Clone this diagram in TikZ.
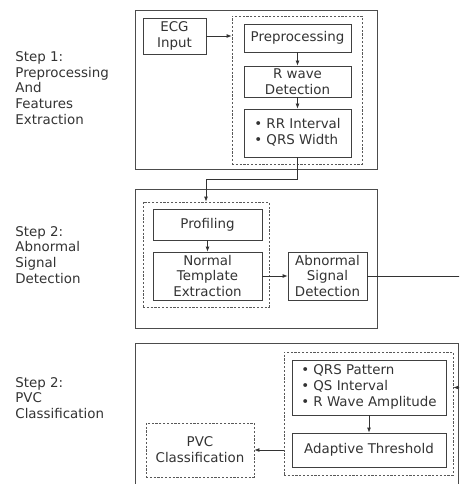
\documentclass[tikz,border=0pt]{standalone}
\usepackage{fontspec}
\setmainfont{DejaVu Sans}
\usetikzlibrary{arrows.meta}

\begin{document}
\begin{tikzpicture}
  [x=1pt,y=-1pt,>={Latex[length=5pt,width=4pt]},
   every node/.style={draw=black!75,line width=.8pt,text=black!80,inner sep=0pt,
     align=center,font=\fontsize{13.4}{15.8}\selectfont},
   stage/.style={draw=black!70},
   group/.style={draw=black!65,dash pattern=on 2.2pt off 1.6pt},
   steptext/.style={draw=none,anchor=west,align=left}]
  \useasboundingbox (0,0) rectangle (459,484);
  \clip (0,0) rectangle (459,484);

  % step labels
  \node[steptext] (t1) at (15,88)  {Step 1:\\Preprocessing\\And\\Features\\Extraction};
  \node[steptext] (t2) at (15,255) {Step 2:\\Abnormal\\Signal\\Detection};
  \node[steptext] (t3) at (15,398) {Step 2:\\PVC\\Classification};

  % outer stage boxes
  \node[stage,minimum width=242pt,minimum height=159pt] (s1) at (256,89.5)    {};
  \node[stage,minimum width=242pt,minimum height=139pt] (s2) at (256,258.5)   {};
  \node[stage,minimum width=323.5pt,minimum height=157pt] (s3) at (296.75,421.5) {};

  % dashed groups
  \node[group,minimum width=130pt,minimum height=148pt] (g1) at (297,90)    {};
  \node[group,minimum width=126pt,minimum height=105pt] (g2) at (206,254.5) {};
  \node[group,minimum width=169pt,minimum height=123pt] (g3) at (368.5,413.5) {};

  % blocks
  \node[minimum width=63pt,minimum height=36pt]  (ecg)   at (174.5,36)  {ECG\\Input};
  \node[minimum width=107pt,minimum height=28pt] (pre)   at (297.5,38)  {Preprocessing};
  \node[minimum width=107pt,minimum height=31pt] (rwave) at (297.5,81.5) {R wave\\Detection};
  \node[minimum width=107pt,minimum height=48pt] (feat)  at (297.5,133) {\begin{tabular}{@{}l@{}}• RR Interval\\• QRS Width\end{tabular}};

  \node[minimum width=109pt,minimum height=31pt] (prof)  at (207.5,224.5) {Profiling};
  \node[minimum width=109pt,minimum height=48pt] (nte)   at (207.5,276) {Normal\\Template\\Extraction};
  \node[minimum width=79pt,minimum height=48pt]  (asd)   at (327.5,276) {Abnormal\\Signal\\Detection};

  \node[minimum width=154pt,minimum height=55pt] (qrs)   at (369,387.5) {\begin{tabular}{@{}l@{}}• QRS Pattern\\• QS Interval\\• R Wave Amplitude\end{tabular}};
  \node[minimum width=154pt,minimum height=34pt] (adapt) at (369,450) {Adaptive Threshold};
  \node[group,minimum width=108pt,minimum height=54pt] (pvc) at (200,450) {PVC\\Classification};

  \coordinate (turn) at (470,276);

  \foreach \from/\to in {pre/rwave,rwave/feat,prof/nte,qrs/adapt}
    \draw[->,black!80,line width=.8pt] (\from) -- (\to);

  \draw[->,black!80,line width=.8pt] (ecg.east) -- (ecg.east -| g1.west);
  \draw[->,black!80,line width=.8pt] (feat.south) -- ++(0,22) -| (g2.north);
  \draw[->,black!80,line width=.8pt] (nte.east) -- (asd.west);
  \draw[->,black!80,line width=.8pt] (asd.east) -- (turn) |- (qrs.center -| g3.east);
  \draw[->,black!80,line width=.8pt] (adapt.center -| g3.west) -- (pvc.east);

\end{tikzpicture}
\end{document}
